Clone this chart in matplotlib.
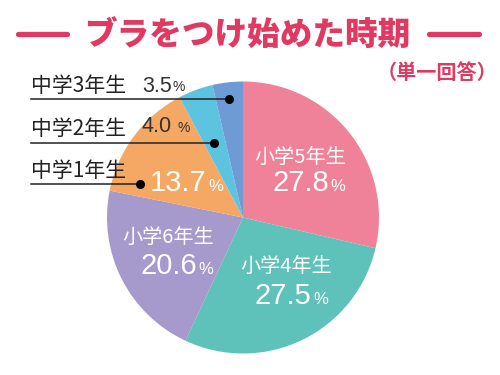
import matplotlib
matplotlib.use("Agg")
import numpy as np
import matplotlib.pyplot as plt

plt.rcParams['font.family'] = ['Noto Sans CJK JP', 'DejaVu Sans']

# --- data (clockwise from 12 o'clock) ---
labels = ['小学5年生', '小学4年生', '小学6年生', '中学1年生', '中学2年生', '中学3年生']
values = [27.8, 27.5, 20.6, 13.7, 4.0, 3.5]
colors = ['#EF8299', '#5EC1BA', '#A699CB', '#F4A864', '#5CC3E1', '#6E9BD3']

title = 'ブラをつけ始めた時期'
subtitle = '（単一回答）'
RED = '#E13A62'
NUMFONT = ['Liberation Sans', 'DejaVu Sans']

W, H = 500, 375
CX, CY, R = 243, 217.5, 136   # pie centre / radius in pixels

fig = plt.figure(figsize=(5, 3.75), dpi=100)
fig.patch.set_facecolor('white')

# pie axes placed so the circle lands where it is in the picture
ax = fig.add_axes([(CX - R) / W, 1 - (CY + R) / H, 2 * R / W, 2 * R / H])
ax.pie(values, colors=colors, startangle=90, counterclock=False,
       wedgeprops=dict(linewidth=0))
ax.set_xlim(-1, 1)
ax.set_ylim(-1, 1)
ax.set_aspect('auto')
ax.axis('off')

# overlay in pixel coords for text and leaders
ov = fig.add_axes([0, 0, 1, 1], zorder=5)
ov.set_xlim(0, W)
ov.set_ylim(H, 0)
ov.axis('off')


def pct(x, y, val, size, color, psize, gap=0.03):
    t = ov.text(x, y, f'{val:.1f}', fontsize=size, color=color,
                ha='left', va='center', family=NUMFONT)
    ov.annotate('%', xy=(1 + gap, 0.1), xycoords=t, fontsize=psize,
                color=color, ha='left', va='bottom', family=NUMFONT)
    return t


# title
ov.text(247, 36, title, fontsize=23.5, fontweight='heavy', color=RED,
        ha='center', va='center')
ov.plot([18, 67], [34, 34], color=RED, lw=3.8, solid_capstyle='round')
ov.plot([429, 479], [34, 34], color=RED, lw=3.8, solid_capstyle='round')
ov.text(437, 72, subtitle, fontsize=14.5, fontweight='bold', color=RED,
        ha='center', va='center')

# labels inside the big slices (label centre, number left edge)
inside = {
    0: (300, 157, 272, 183),
    1: (286, 266, 255, 296),
    2: (168, 237, 140, 266),
}
for i, (lx, ly, px, py) in inside.items():
    ov.text(lx, ly, labels[i], fontsize=14.5, color='white',
            ha='center', va='center')
    pct(px, py, values[i], 21, 'white', 12)

# small slices: label left with a leader line to a dot
leaders = {
    5: (96.8, 0.874),
    4: (111.1, 0.59),
    3: (162.2, 0.795),
}
for i, (ang, rr) in leaders.items():
    a = np.deg2rad(ang)
    dx = CX + rr * R * np.cos(a)
    dy = CY - rr * R * np.sin(a)
    ov.plot([31, dx], [dy, dy], color='#222222', lw=1.1)
    ov.plot(dx, dy, 'o', color='black', ms=5.5)
    ov.text(31, dy - 13.5, labels[i], fontsize=15, color='#222222',
            ha='left', va='center')

pct(142, 86, values[5], 15.5, '#333333', 10, 0.04)
pct(142, 127, values[4], 15.5, '#333333', 10, 0.17)
pct(150, 183, values[3], 21, 'white', 12)

fig.savefig('out.png', dpi=100, facecolor='white')
